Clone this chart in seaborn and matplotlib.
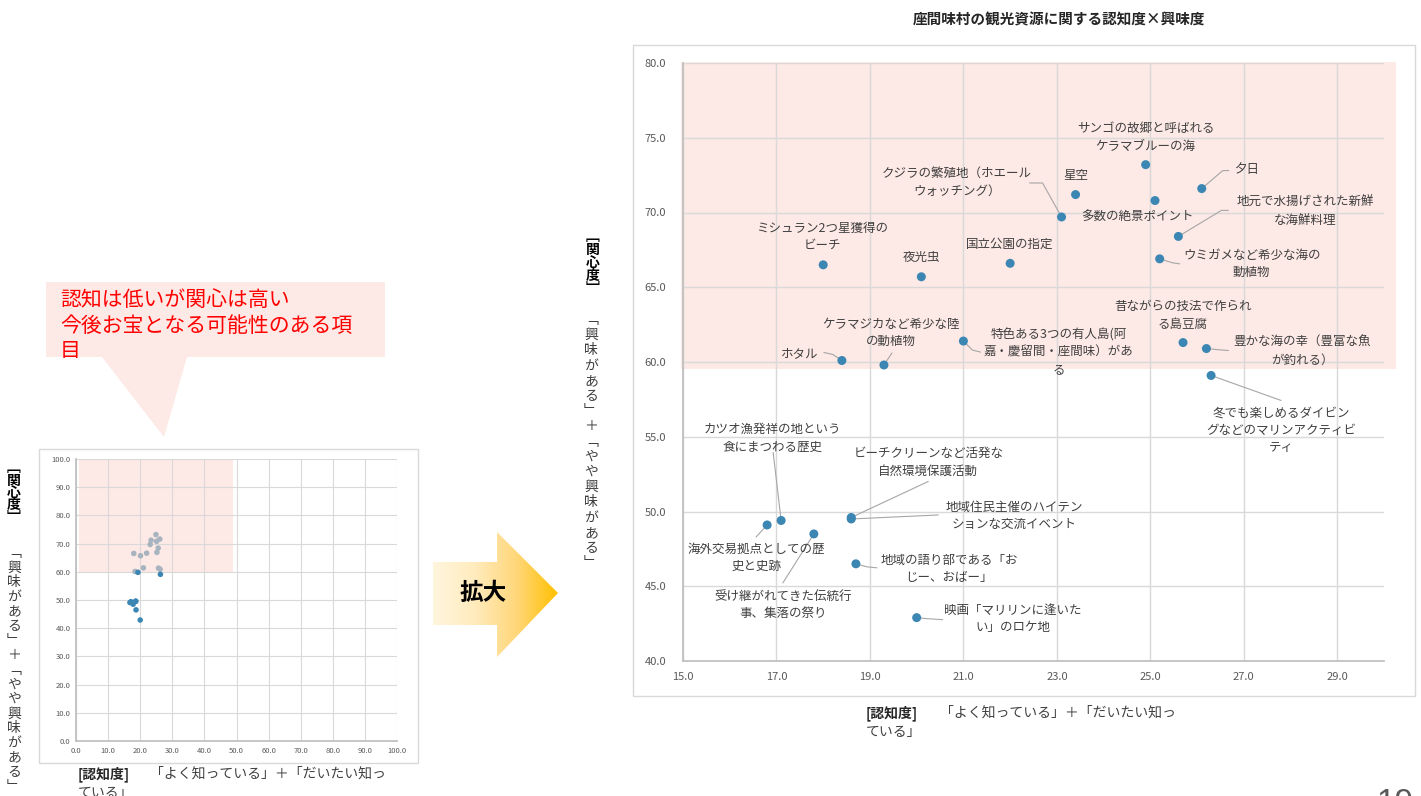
import matplotlib
matplotlib.use('Agg')
import matplotlib.pyplot as plt
from matplotlib.patches import Rectangle, Polygon
from matplotlib.colors import LinearSegmentedColormap
import numpy as np
import pandas as pd
import seaborn as sns

# データ（認知度・興味度）
labels = [
    'サンゴの故郷と呼ばれる\nケラマブルーの海',
    '夕日',
    '星空',
    '多数の絶景ポイント',
    'クジラの繁殖地（ホエール\nウォッチング）',
    '地元で水揚げされた新鮮\nな海鮮料理',
    'ミシュラン2つ星獲得の\nビーチ',
    '国立公園の指定',
    '夜光虫',
    'ウミガメなど希少な海の\n動植物',
    '昔ながらの技法で作られ\nる島豆腐',
    '豊かな海の幸（豊富な魚\nが釣れる）',
    'ホタル',
    '特色ある3つの有人島(阿\n嘉・慶留間・座間味）があ\nる',
    'ケラマジカなど希少な陸\nの動植物',
    '冬でも楽しめるダイビン\nグなどのマリンアクティビ\nティ',
    'カツオ漁発祥の地という\n食にまつわる歴史',
    'ビーチクリーンなど活発な\n自然環境保護活動',
    '地域住民主催のハイテン\nションな交流イベント',
    '海外交易拠点としての歴\n史と史跡',
    '受け継がれてきた伝統行\n事、集落の祭り',
    '地域の語り部である「お\nじー、おばー」',
    '映画「マリリンに逢いた\nい」のロケ地',
]
awareness = [24.9, 26.1, 23.4, 25.1, 23.1, 25.6, 18.0, 22.0, 20.1, 25.2, 25.7, 26.2,
             18.4, 21.0, 19.3, 26.3, 17.1, 18.6, 18.6, 16.8, 17.8, 18.7, 20.0]
interest = [73.2, 71.6, 71.2, 70.8, 69.7, 68.4, 66.5, 66.6, 65.7, 66.9, 61.3, 60.9,
            60.1, 61.4, 59.8, 59.1, 49.4, 49.6, 49.5, 49.1, 48.5, 46.5, 42.9]

df = pd.DataFrame({'label': labels, 'x': awareness, 'y': interest})
df['zone'] = np.where(df['y'] >= 60, 'high', 'low')

# ラベル位置（点からのピクセルずれ、右・下が正）と引き出し線
label_offsets = [(0, -27), (45, -19), (0, -19), (-18, 17), (-105, -34), (127, -25),
                 (-1, -28), (0, -19), (0, -19), (92, 5), (0, -27), (96, 3),
                 (-42, -7), (95, 11), (7, -32), (70, 55), (-9, -82), (77, -55),
                 (163, -3), (-11, 33), (-31, 71), (93, 5), (96, 1)]
leaders = [[], [(21, -18), (27, -18)], [], [], [(-19, -34), (-32, -34)],
           [(43, -26), (50, -26)], [], [], [], [(13, 4), (20, 5)], [],
           [(10, 1), (22, 2)], [(-9, -6), (-18, -8)], [(9, 9), (17, 11)],
           [(8, -12)], [(70, 25)], [(-8, -68)], [(77, -36)], [(87, -4)],
           [(-11, 12)], [(-31, 49)], [(11, 3), (21, 4)], [(10, 1), (26, 2)]]

BLUE = '#3C86B4'
GRAY_DOT = '#A8B3C0'
PINK = '#FDE9E5'
GRID = '#D9D9D9'
TXT = '#404040'

sns.set_theme(style='white')
plt.rcParams['font.family'] = ['Noto Sans CJK JP', 'DejaVu Sans']

W, H = 1421, 796
fig = plt.figure(figsize=(W / 100, H / 100), dpi=100)


def rect(l, t, r, b):
    return [l / W, 1 - b / H, (r - l) / W, (b - t) / H]


# 背景（ピクセル座標）
bg = fig.add_axes([0, 0, 1, 1])
bg.set_xlim(0, W)
bg.set_ylim(H, 0)
bg.axis('off')


def vtext(x, y0, step, text, **kw):
    for i, ch in enumerate(text):
        bg.text(x, y0 + i * step, ch, ha='center', va='center', **kw)


# ---- 左の小さいグラフ ----
bg.add_patch(Rectangle((39, 449), 379, 314, fill=False, edgecolor=GRID, lw=1))
ax2 = fig.add_axes(rect(76, 459, 397, 741))
ax2.add_patch(Rectangle((1, 60), 48, 40, facecolor=PINK, edgecolor='none', zorder=0))
sns.scatterplot(data=df, x='x', y='y', hue='zone', palette={'high': GRAY_DOT, 'low': BLUE},
                s=16, edgecolor='none', legend=False, ax=ax2, zorder=3)
ax2.set_xlim(0, 100)
ax2.set_ylim(0, 100)
ax2.set_xticks(np.arange(0, 101, 10))
ax2.set_yticks(np.arange(0, 101, 10))
ax2.set_xticklabels([f'{v:.1f}' for v in np.arange(0, 101, 10)])
ax2.set_yticklabels([f'{v:.1f}' for v in np.arange(0, 101, 10)])
ax2.grid(True, color=GRID, lw=0.8)
ax2.set_axisbelow(True)
ax2.tick_params(length=0, labelsize=5.5, colors='#595959', pad=4)
for s in ['top', 'right']:
    ax2.spines[s].set_visible(False)
for s in ['left', 'bottom']:
    ax2.spines[s].set_color('#BFBFBF')
ax2.set_xlabel('')
ax2.set_ylabel('')

vtext(14, 468, 12.5, '﹇関心度﹈', fontsize=10, fontweight='bold', color='#000000')
vtext(14, 553, 14.6, '﹁興味がある﹂＋﹁やや興味がある﹂', fontsize=10, color=TXT)
bg.text(78, 774, '[認知度]', ha='left', va='center', fontsize=10, fontweight='bold', color='#262626')
bg.text(150, 774, '「よく知っている」＋「だいたい知っ', ha='left', va='center', fontsize=10, color=TXT)
bg.text(78, 793, 'ている」', ha='left', va='center', fontsize=10, color=TXT)

# 吹き出し
bg.add_patch(Polygon([(46, 282), (385, 282), (385, 357), (187, 357), (164, 437), (102, 357), (46, 357)],
                     closed=True, facecolor=PINK, edgecolor='none'))
for i, line in enumerate(['認知は低いが関心は高い', '今後お宝となる可能性のある項', '目']):
    bg.text(60, 300 + i * 25.5, line, ha='left', va='center', fontsize=15, color='#FF0000')

# 拡大の矢印
arrow = Polygon([(433, 562), (497, 562), (497, 532), (558, 593), (497, 657), (497, 625), (433, 625)],
                closed=True, facecolor='none', edgecolor='none')
bg.add_patch(arrow)
cmap = LinearSegmentedColormap.from_list('g', ['#FFF6DE', '#FFEBBD', '#FFD77A', '#FFC000'])
grad = np.linspace(0, 1, 256).reshape(1, -1)
im = bg.imshow(grad, cmap=cmap, extent=[433, 558, 657, 532], aspect='auto', zorder=1)
im.set_clip_path(arrow)
bg.set_xlim(0, W)
bg.set_ylim(H, 0)
bg.text(483, 593, '拡大', ha='center', va='center', fontsize=17, fontweight='bold', color='#000000', zorder=2)

# ---- 右の拡大グラフ ----
bg.add_patch(Rectangle((633, 45), 782, 651, fill=False, edgecolor=GRID, lw=1))
bg.text(1059, 19, '座間味村の観光資源に関する認知度×興味度', ha='center', va='center',
        fontsize=10.5, fontweight='bold', color='#262626')

ax = fig.add_axes(rect(683, 63, 1384, 661))
ax.add_patch(Rectangle((14.95, 59.53), 15.3, 20.52, facecolor=PINK, edgecolor='none',
                       zorder=0, clip_on=False))
sns.scatterplot(data=df, x='x', y='y', color=BLUE, s=42, edgecolor='none', ax=ax, zorder=4)
ax.set_xlim(15, 30)
ax.set_ylim(40, 80)
ax.set_xticks(np.arange(15, 30, 2))
ax.set_yticks(np.arange(40, 81, 5))
ax.set_xticklabels([f'{v:.1f}' for v in np.arange(15, 30, 2)])
ax.set_yticklabels([f'{v:.1f}' for v in np.arange(40, 81, 5)])
ax.grid(True, color=GRID, lw=1)
ax.set_axisbelow(True)
ax.tick_params(length=0, labelsize=8, colors='#595959')
ax.tick_params(axis='x', pad=8)
ax.tick_params(axis='y', pad=12)
for s in ['top', 'right']:
    ax.spines[s].set_visible(False)
for s in ['left', 'bottom']:
    ax.spines[s].set_color('#BFBFBF')
ax.set_xlabel('')
ax.set_ylabel('')

pos = ax.get_position()
sx = pos.width * W / 15.0
sy = pos.height * H / 40.0
for i, row in df.iterrows():
    dx, dy = label_offsets[i]
    ax.annotate(row['label'], xy=(row['x'], row['y']), xytext=(dx, -dy), textcoords='offset pixels',
                ha='center', va='center', fontsize=9, color=TXT, linespacing=1.45, zorder=5,
                annotation_clip=False)
    if leaders[i]:
        xs = [row['x']] + [row['x'] + ox / sx for ox, oy in leaders[i]]
        ys = [row['y']] + [row['y'] - oy / sy for ox, oy in leaders[i]]
        ax.plot(xs, ys, color='#A6A6A6', lw=0.8, zorder=3, clip_on=False)

vtext(593, 237, 13, '﹇関心度﹈', fontsize=10, fontweight='bold', color='#000000')
vtext(591, 320, 15.2, '﹁興味がある﹂＋﹁やや興味がある﹂', fontsize=10, color=TXT)
bg.text(866, 713, '[認知度]', ha='left', va='center', fontsize=10, fontweight='bold', color='#262626')
bg.text(940, 713, '「よく知っている」＋「だいたい知っ', ha='left', va='center', fontsize=10, color=TXT)
bg.text(866, 732, 'ている」', ha='left', va='center', fontsize=10, color=TXT)

# ページ番号
bg.text(1395, 812, '19', ha='center', va='baseline', fontsize=24, color='#595959',
        family='Liberation Sans')

fig.savefig('out.png', dpi=100)
